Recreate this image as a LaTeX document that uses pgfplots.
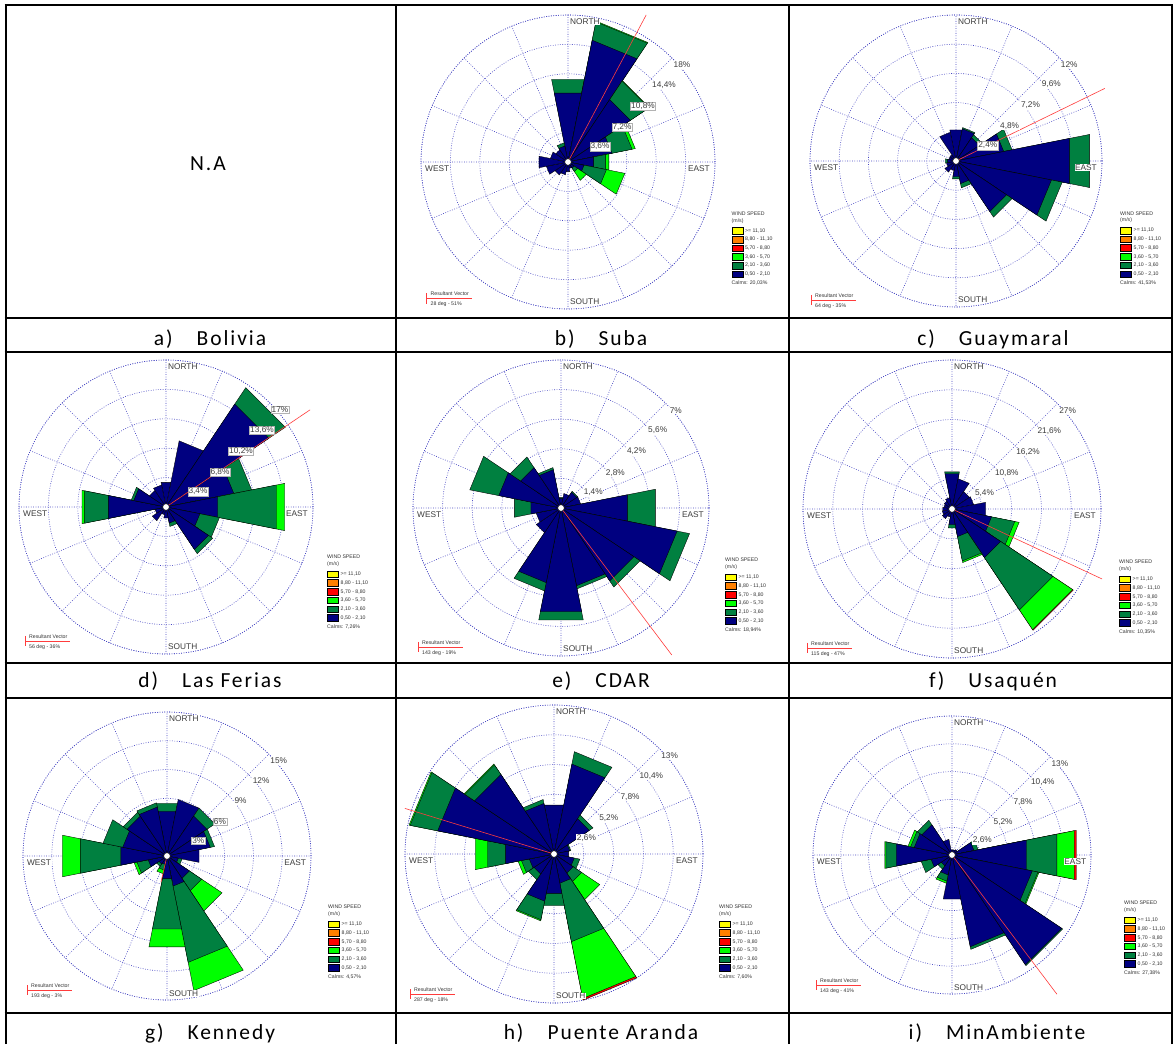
\documentclass[border=0pt]{standalone}
\usepackage{pgfplots}
\pgfplotsset{compat=1.18}
\usepgfplotslibrary{polar}
\usepackage{pgfplotstable}
\usepackage{fontspec}
\setmainfont{Carlito}
\newfontfamily\arialf{Liberation Sans}
\newfontfamily\lblfont[LetterSpace=9]{Carlito}

\definecolor{wsB}{RGB}{0,0,128}
\definecolor{wsG}{RGB}{0,128,64}
\definecolor{wsL}{RGB}{0,255,0}
\definecolor{wsR}{RGB}{255,0,0}
\definecolor{wsO}{RGB}{255,128,0}
\definecolor{wsY}{RGB}{255,255,0}
\definecolor{gridc}{RGB}{70,70,195}
\definecolor{txtg}{RGB}{60,60,60}
\definecolor{resred}{RGB}{255,60,60}

% columns: direction (deg from north), 0.5-2.1, 2.1-3.6, 3.6-5.7, 5.7-8.8 m/s (percent)
\pgfplotstableread{
d b g l r
0 8.6 1.7 0 0
22.5 15.2 2.3 0.1 0
45 9.2 2.7 0.1 0
67.5 5.5 2.5 0.4 0
90 3.2 1.5 0.4 0
112.5 2.0 2.8 2.3 0
135 0.9 0.5 1.3 0
157.5 0.8 0 0 0
180 1.2 0 0 0
202.5 1.6 0 0 0
225 1.9 0 0 0
247.5 2.7 0 0 0
270 3.6 0 0 0
292.5 2.2 0 0 0
315 1.8 0 0 0
337.5 2.0 0.4 0 0
}\tabSuba
\pgfplotstableread{
d b g l r
0 2.6 0 0 0
22.5 2.7 0.1 0 0
45 2.3 0.3 0 0
67.5 4.0 0.7 0 0
90 9.5 1.7 0 0
112.5 8.0 0.9 0 0
135 5.0 0.55 0 0
157.5 1.9 0.35 0 0
180 1.3 0.2 0 0
202.5 0.8 0 0 0
225 1.1 0 0 0
247.5 0.8 0 0 0
270 0.7 0.2 0 0
292.5 0.6 0 0 0
315 0.6 0 0 0
337.5 2.4 0 0 0
}\tabGuay
\pgfplotstableread{
d b g l r
0 2.9 0 0 0
22.5 7.8 0 0 0
45 14.3 2.3 0 0
67.5 8.0 2.1 0 0
90 6.1 6.9 1.0 0
112.5 4.0 2.3 0 0
135 5.9 0.6 0 0
157.5 1.9 0.4 0 0
180 1.3 0 0 0
202.5 0.9 0 0 0
225 1.9 0 0 0
247.5 1.3 0 0 0
270 6.8 2.8 0.3 0
292.5 3.8 0.3 0 0
315 2.3 0 0 0
337.5 2.6 0 0 0
}\tabFerias
\pgfplotstableread{
d b g l r
0 0.45 0.05 0 0
22.5 0.7 0 0 0
45 0.9 0.05 0 0
67.5 0.95 0 0 0
90 3.2 1.35 0 0
112.5 5.6 0.6 0 0
135 4.15 0.35 0 0
157.5 3.75 0.15 0 0
180 5.0 0.4 0 0
202.5 3.6 0.4 0 0
225 1.4 0 0 0
247.5 1.2 0 0 0
270 1.45 0.8 0 0
292.5 3.0 1.4 0 0
315 2.3 0.6 0 0
337.5 1.85 0.1 0 0
}\tabCDAR
\pgfplotstableread{
d b g l r
0 6.5 0.35 0 0
22.5 5.6 0 0 0
45 3.8 0 0 0
67.5 4.0 0 0 0
90 6.2 0 0 0
112.5 7.3 4.3 0.8 0
135 10.6 11.4 4.3 0.15
157.5 5.1 4.5 0.3 0
180 2.9 0.6 0 0
202.5 1.5 0 0 0
225 2.1 0 0 0
247.5 1.8 0 0 0
270 1.7 0 0 0
292.5 1.5 0 0 0
315 1.7 0 0 0
337.5 2.1 0 0 0
}\tabUsaq
\pgfplotstableread{
d b g l r
0 4.75 0.85 0 0
22.5 6.0 0 0 0
45 5.0 1.0 0 0
67.5 4.6 0.45 0 0
90 3.4 0 0 0
112.5 1.2 0.4 0 0
135 2.8 1.55 2.55 0
157.5 3.2 8.1 3.0 0
180 2.4 5.35 1.9 0
202.5 0.9 0.6 0.4 0
225 1.0 0.3 0 0
247.5 2.0 1.2 0.3 0
270 4.9 4.3 1.9 0
292.5 4.7 2.1 0 0
315 5.0 0.5 0 0
337.5 5.2 0.45 0 0
}\tabKen
\pgfplotstableread{
d b g l r
0 4.35 0 0 0
22.5 8.0 1.1 0 0
45 3.7 0.4 0 0
67.5 1.4 0.1 0 0
90 1.3 0 0 0
112.5 1.8 0.5 0 0
135 2.0 0.9 1.9 0
157.5 2.6 5.2 5.05 0.15
180 3.5 1.1 0 0
202.5 4.2 1.65 0.1 0
225 2.1 0.6 0 0
247.5 2.2 0.7 0.3 0
270 4.3 1.6 1.1 0
292.5 10.35 2.45 0.1 0
315 8.35 1.0 0.1 0
337.5 4.5 0.35 0 0
}\tabPA
\pgfplotstableread{
d b g l r
0 0.5 0 0 0
22.5 0.5 0 0 0
45 0.6 0 0 0
67.5 2.1 0.4 0 0
90 7.1 2.9 1.65 0.2
112.5 7.65 0.55 0.1 0
135 12.35 0.1 0 0
157.5 8.75 0.25 0 0
180 4.2 0 0 0
202.5 1.9 0.6 0.2 0
225 1.2 0.4 0 0
247.5 2.0 0.95 0 0
270 5.3 1.0 0.1 0
292.5 3.6 0.35 0.25 0
315 3.4 0.5 0 0
337.5 1.5 0 0 0
}\tabMin

\tikzset{
  wedge/.style={draw=black, line width=0.35pt},
  rl/.style={font=\arialf\fontsize{8.3}{9}\selectfont, text=txtg, fill=white, inner sep=0.8pt, line width=0.4pt},
  cmp/.style={font=\arialf\fontsize{8.3}{9}\selectfont, text=txtg, fill=white, inner sep=0.5pt},
  lg/.style={font=\arialf\fontsize{5.2}{6}\selectfont, text=black!80, inner sep=0pt},
}
\pgfplotsset{rose/.style={
  scale only axis, clip=false,
  xmin=0, xmax=360, ymin=0,
  xtick={0,22.5,...,337.5},
  xticklabels={}, yticklabels={},
  major tick length=0pt,
  grid=major,
  major grid style={gridc, line width=0.6pt, dash pattern=on 0.8pt off 1.6pt},
  separate axis lines,
  x axis line style={gridc, line width=0.6pt, dash pattern=on 0.8pt off 1.6pt},
  y axis line style={draw=none},
}}

\newcommand\rwedge[2]{\edef\tmp{\noexpand\addplot[wedge,fill=#1] coordinates {(\aA,0) (\aA,#2) (\aB,#2) (\aB,0)} -- cycle;}\tmp}
\newcommand\rosewedges[1]{%
  \pgfplotsforeachungrouped \i in {0,...,15}{%
    \pgfplotstablegetelem{\i}{d}\of{#1}\let\rsD\pgfplotsretval
    \pgfplotstablegetelem{\i}{b}\of{#1}\let\rsB\pgfplotsretval
    \pgfplotstablegetelem{\i}{g}\of{#1}\let\rsG\pgfplotsretval
    \pgfplotstablegetelem{\i}{l}\of{#1}\let\rsL\pgfplotsretval
    \pgfplotstablegetelem{\i}{r}\of{#1}\let\rsR\pgfplotsretval
    \pgfmathsetmacro\aA{90-\rsD-11.25}%
    \pgfmathsetmacro\aB{90-\rsD+11.25}%
    \pgfmathsetmacro\cG{\rsB+\rsG}%
    \pgfmathsetmacro\cL{\cG+\rsL}%
    \pgfmathsetmacro\cR{\cL+\rsR}%
    \ifdim\rsR pt>0pt \rwedge{wsR}{\cR}\fi
    \ifdim\rsL pt>0pt \rwedge{wsL}{\cL}\fi
    \ifdim\rsG pt>0pt \rwedge{wsG}{\cG}\fi
    \ifdim\rsB pt>0pt \rwedge{wsB}{\rsB}\fi
  }}

% #1 cx, #2 cy, #3 diameter, #4 ymax, #5 ring ticks, #6 table, #7 resultant angle (math), #8 resultant length
\newcommand\rose[8]{%
\begin{polaraxis}[rose, at={(#1pt,#2pt)}, anchor=origin, width=#3pt, height=#3pt, ymax=#4, ytick={#5}]
\rosewedges{#6}
\addplot[resred, line width=0.6pt] coordinates {(0,0) (#7,#8)};
\draw[fill=white, draw=black, line width=0.4pt] (axis cs:0,0) circle[radius=3.3pt];
\end{polaraxis}}

\newcommand\RL[3]{\ifnum#3>\nb\relax\node[rl] at (#1) {#2};\else\node[rl,draw=gray!60] at (#1) {#2};\fi}
\newcommand\ringlabels[6]{%
  \def\nb{#6}%
  \RL{32,15.5}{#1}{1}%
  \RL{54,35}{#2}{2}%
  \RL{75,56}{#3}{3}%
  \RL{96,77}{#4}{4}%
  \RL{114,97}{#5}{5}}
\newcommand\compass{%
  \node[cmp,anchor=west] at (1.5,140) {NORTH};
  \node[cmp,anchor=west] at (1.5,-140) {SOUTH};
  \node[cmp,anchor=east] at (142.5,-6.5) {EAST};
  \node[cmp,anchor=west] at (-143.5,-6.5) {WEST};}
\newcommand\roselegend[3]{%
  \begin{scope}[shift={(#1,#2)}]
  \node[lg,anchor=west] at (0,0) {WIND SPEED};
  \node[lg,anchor=west] at (0,-7.3) {(m/s)};
  \foreach \c/\t [count=\k from 0] in {wsY/{>= 11,10},wsO/{8,80 - 11,10},wsR/{5,70 - 8,80},wsL/{3,60 - 5,70},wsG/{2,10 - 3,60},wsB/{0,50 - 2,10}}{%
    \draw[fill=\c, line width=0.35pt] (0.5,{-13.9-8.7*\k}) rectangle ++(10.7,-6.6);
    \node[lg,anchor=west] at (13.5,{-17.2-8.7*\k}) {\t};
  }
  \node[lg,anchor=west] at (0,-69.8) {Calms: #3};
  \end{scope}}
\newcommand\resbox[3]{%
  \begin{scope}[shift={(#1,#2)}]
  \draw[resred, line width=0.55pt] (0,0) -- (45,0) (0,5) -- (0,-5.3);
  \node[lg,anchor=west] at (4,4.3) {Resultant Vector};
  \node[lg,anchor=west] at (4,-5.8) {#3};
  \end{scope}}

\begin{document}
\begin{tikzpicture}
\useasboundingbox (0pt,0pt) rectangle (1174pt,1044pt);
\fill[white] (0pt,0pt) rectangle (1174pt,1044pt);

\rose{568}{882}{294}{18}{3.6,7.2,10.8,14.4,18}{\tabSuba}{62}{20.4}
\rose{956}{883}{292}{12}{2.4,4.8,7.2,9.6,12}{\tabGuay}{26}{13.6}
\rose{166}{537}{294}{17}{3.4,6.8,10.2,13.6,17}{\tabFerias}{34}{20.1}
\rose{561}{536}{296}{7}{1.4,2.8,4.2,5.6,7}{\tabCDAR}{-53}{8.7}
\rose{952}{535}{298}{27}{5.4,10.8,16.2,21.6,27}{\tabUsaq}{-25}{30}
\rose{167}{188}{288}{15}{3,6,9,12,15}{\tabKen}{-103}{2.8}
\rose{554}{190}{298}{13}{2.6,5.2,7.8,10.4,13}{\tabPA}{163}{13.6}
\rose{952}{189}{278}{13}{2.6,5.2,7.8,10.4,13}{\tabMin}{-53}{16.3}

\begin{scope}[x=1pt,y=1pt]
% Suba
\begin{scope}[shift={(568,882)}]
  \compass \ringlabels{3,6\%}{7,2\%}{10,8\%}{14,4\%}{18\%}{3}
  \roselegend{163.5}{-51.5}{20,03\%}
  \resbox{-141.5}{-136.3}{28 deg - 51\%}
\end{scope}
% Guaymaral
\begin{scope}[shift={(956,883)}]
  \begin{scope}[scale=0.993]\compass \ringlabels{2,4\%}{4,8\%}{7,2\%}{9,6\%}{12\%}{1}\end{scope}
  \roselegend{164}{-52.3}{41,53\%}
  \resbox{-145}{-139}{64 deg - 35\%}
\end{scope}
% Las Ferias
\begin{scope}[shift={(166,537)}]
  \compass \ringlabels{3,4\%}{6,8\%}{10,2\%}{13,6\%}{17\%}{5}
  \roselegend{161}{-50}{7,26\%}
  \resbox{-141}{-134}{56 deg - 36\%}
\end{scope}
% CDAR
\begin{scope}[shift={(561,536)}]
  \begin{scope}[scale=1.007]\compass \ringlabels{1,4\%}{2,8\%}{4,2\%}{5,6\%}{7\%}{0}\end{scope}
  \roselegend{164}{-52}{18,94\%}
  \resbox{-143}{-139}{143 deg - 19\%}
\end{scope}
% Usaquen
\begin{scope}[shift={(952,535)}]
  \begin{scope}[scale=1.014]\compass \ringlabels{5,4\%}{10,8\%}{16,2\%}{21,6\%}{27\%}{0}\end{scope}
  \roselegend{167}{-53}{10,35\%}
  \resbox{-145}{-139}{115 deg - 47\%}
\end{scope}
% Kennedy
\begin{scope}[shift={(167,188)}]
  \begin{scope}[scale=0.98]\compass \ringlabels{3\%}{6\%}{9\%}{12\%}{15\%}{2}\end{scope}
  \roselegend{161}{-51}{4,57\%}
  \resbox{-140}{-134}{193 deg - 3\%}
\end{scope}
% Puente Aranda
\begin{scope}[shift={(554,190)}]
  \begin{scope}[scale=1.014]\compass \ringlabels{2,6\%}{5,2\%}{7,8\%}{10,4\%}{13\%}{0}\end{scope}
  \roselegend{165}{-53}{7,60\%}
  \resbox{-144}{-140}{287 deg - 18\%}
\end{scope}
% MinAmbiente
\begin{scope}[shift={(952,189)}]
  \begin{scope}[scale=0.946]\compass \ringlabels{2,6\%}{5,2\%}{7,8\%}{10,4\%}{13\%}{0}\end{scope}
  \roselegend{172}{-48}{27,38\%}
  \resbox{-136}{-130}{143 deg - 41\%}
\end{scope}

% table grid
\draw[line width=2.6pt] (6,0) -- (6,1039) (396,0) -- (396,1039) (789,0) -- (789,1039) (1172,0) -- (1172,1039);
\draw[line width=2.6pt] (4.7,1039) -- (1173.3,1039) (4.7,726) -- (1173.3,726) (4.7,692) -- (1173.3,692)
  (4.7,381) -- (1173.3,381) (4.7,346) -- (1173.3,346) (4.7,31) -- (1173.3,31);

% captions
\begin{scope}[every node/.style={font=\lblfont\fontsize{21.5}{24}\selectfont, anchor=base, inner sep=0pt}]
\node at (210,698) {a)\hspace{24pt}Bolivia};
\node at (601,698) {b)\hspace{24pt}Suba};
\node at (993,698) {c)\hspace{24pt}Guaymaral};
\node at (210,356) {d)\hspace{24pt}Las Ferias};
\node at (601,356) {e)\hspace{24pt}CDAR};
\node at (993,356) {f)\hspace{24pt}Usaquén};
\node at (210,5) {g)\hspace{24pt}Kennedy};
\node at (601,5) {h)\hspace{24pt}Puente Aranda};
\node at (997,5) {i)\hspace{24pt}MinAmbiente};
\node at (208,873) {N.A};
\end{scope}
\end{scope}
\end{tikzpicture}
\end{document}
